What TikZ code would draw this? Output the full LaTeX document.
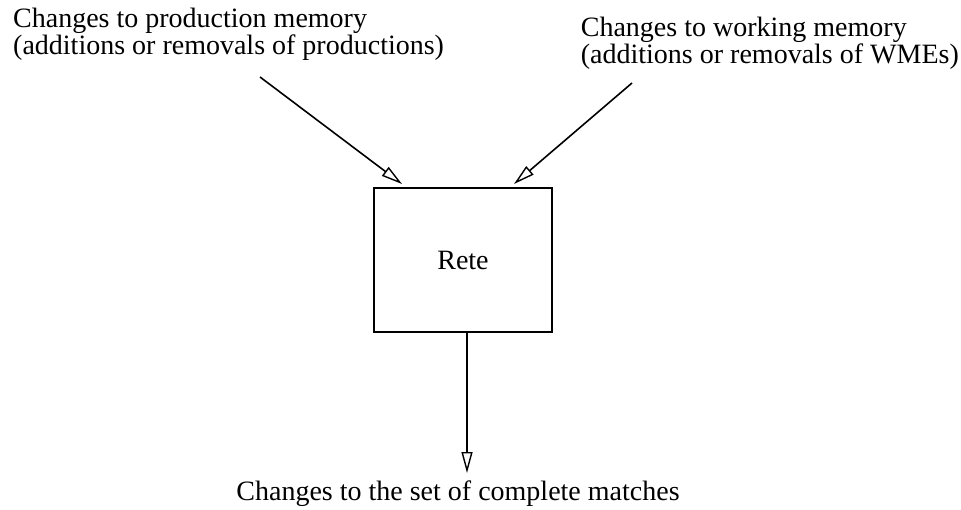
\documentclass[tikz,border=0pt]{standalone}
\usepackage{fontspec}
\setmainfont{Liberation Serif}
\usetikzlibrary{arrows.meta}
\tikzset{
    txt/.style={font=\fontsize{28}{27}\selectfont, inner sep=0pt, align=left},
    flow/.style={-{Triangle[open,length=21pt,width=11pt,line width=1.4pt]}, line width=1.6pt},
    retebox/.style={draw, line width=2pt, minimum width=178pt, minimum height=144pt, font=\fontsize{28}{27}\selectfont}
}
\begin{document}
\begin{tikzpicture}[x=1pt,y=-1pt]
    \useasboundingbox (0,0) rectangle (961,510);
    %draw texts
    \node[txt, anchor=north west] (prodmem) at (13,8) {Changes to production memory\\(additions or removals of productions)};
    \node[txt, anchor=north east] (workmem) at (959,17) {Changes to working memory\\(additions or removals of WMEs)};
    \node[txt, anchor=base] (matches) at (458,500) {Changes to the set of complete matches};
    \node[retebox] (rete) at (463,260) {Rete};
    %draw arrows
    \coordinate (prodstart) at (260,77);
    \coordinate (workstart) at (632,83);
    \coordinate (matchend) at (467,473);
    \draw [flow] (prodstart) -- ([shift={(29,-3)}]rete.north west);
    \draw [flow] (workstart) -- ([shift={(-39,-3)}]rete.north east);
    \draw [flow] ([xshift=4pt]rete.south) -- (matchend);
\end{tikzpicture}
\end{document}
